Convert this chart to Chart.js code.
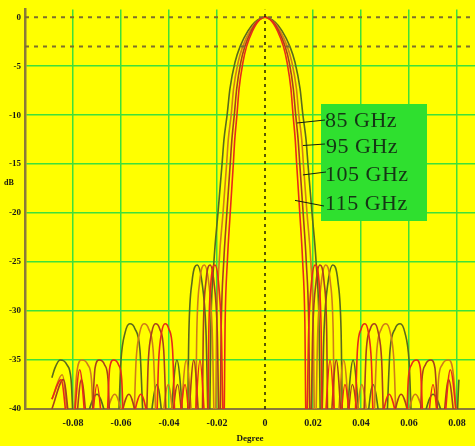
<!DOCTYPE html>
<html lang="en">
<head>
    <meta charset="UTF-8">
    <title>Beam patterns</title>
    <script src="https://cdn.jsdelivr.net/npm/chart.js"></script>
    <style>
        html, body { margin: 0; padding: 0; background: #ffff00; }
        #wrap { width: 475px; height: 446px; }
    </style>
</head>
<body>
    <div id="wrap"><canvas id="pattern" width="475" height="446"></canvas></div>

    <script>
        // Frequencies shown in the legend box
        const freqLabels = ['85 GHz', '95 GHz', '105 GHz', '115 GHz'];
        const freqColors = ['#5a6a1c', '#d07c18', '#a8401c', '#e82a18'];

        // Axis ticks
        const xTickValues = [-0.08, -0.06, -0.04, -0.02, 0, 0.02, 0.04, 0.06, 0.08];
        const yTickValues = [0, -5, -10, -15, -20, -25, -30, -35, -40];

        // Half patterns (offset from boresight, level in dB)
        const offsets85 = [0, 0.0042, 0.0071, 0.0104, 0.0125, 0.0146, 0.0158, 0.0171, 0.0179, 0.0196,
            0.0213, 0.0225, 0.0233, 0.0246, 0.0263, 0.0283, 0.0304, 0.0317, 0.0325, 0.0367,
            0.0408, 0.0450, 0.0500, 0.0521, 0.0542, 0.0563, 0.0583, 0.0600, 0.0617, 0.0700,
            0.0792, 0.0808, 0.0825, 0.0854, 0.0875, 0.0888];
        const levels85 = [0, -0.5, -1.4, -3, -4.6, -7.3, -10, -12.5, -15, -20,
            -25, -31, -44, -32, -27, -25.3, -27, -32, -44, -35,
            -44, -37.5, -44, -34, -31.8, -31.3, -32.2, -35, -44, -38.5,
            -44, -37, -35.5, -35, -35.8, -36.8];

        const offsets95 = [0, 0.0037, 0.0063, 0.0093, 0.0112, 0.0131, 0.0141, 0.0153, 0.0160, 0.0175,
            0.0191, 0.0201, 0.0208, 0.0220, 0.0235, 0.0253, 0.0272, 0.0284, 0.0291, 0.0328,
            0.0365, 0.0403, 0.0447, 0.0466, 0.0485, 0.0504, 0.0522, 0.0537, 0.0552, 0.0626,
            0.0709, 0.0723, 0.0738, 0.0764, 0.0785, 0.0805, 0.0845, 0.0888];
        const levels95 = [0, -0.5, -1.4, -3, -4.6, -7.3, -10, -12.5, -15, -20,
            -25, -31, -44, -32, -27, -25.3, -27, -32, -44, -35,
            -44, -37.5, -44, -34, -31.8, -31.3, -32.2, -35, -44, -38.5,
            -44, -37, -35.5, -35, -36.5, -44, -36.5, -39];

        const offsets105 = [0, 0.0034, 0.0057, 0.0084, 0.0101, 0.0118, 0.0128, 0.0138, 0.0145, 0.0159,
            0.0172, 0.0182, 0.0189, 0.0199, 0.0213, 0.0229, 0.0246, 0.0257, 0.0263, 0.0297,
            0.0330, 0.0364, 0.0405, 0.0422, 0.0439, 0.0456, 0.0472, 0.0486, 0.0499, 0.0567,
            0.0641, 0.0654, 0.0668, 0.0691, 0.0708, 0.0729, 0.0765, 0.0800, 0.0840, 0.0888];
        const levels105 = [0, -0.5, -1.4, -3, -4.6, -7.3, -10, -12.5, -15, -20,
            -25, -31, -44, -32, -27, -25.3, -27, -32, -44, -35,
            -44, -37.5, -44, -34, -31.8, -31.3, -32.2, -35, -44, -38.5,
            -44, -37, -35.5, -35, -35.8, -44, -37, -44, -37, -40];

        const offsets115 = [0, 0.0031, 0.0052, 0.0077, 0.0092, 0.0108, 0.0117, 0.0126, 0.0132, 0.0145,
            0.0157, 0.0166, 0.0172, 0.0182, 0.0194, 0.0209, 0.0225, 0.0234, 0.0240, 0.0271,
            0.0302, 0.0333, 0.0370, 0.0385, 0.0401, 0.0416, 0.0431, 0.0443, 0.0456, 0.0517,
            0.0585, 0.0597, 0.0610, 0.0631, 0.0647, 0.0665, 0.0700, 0.0735, 0.0772, 0.0810,
            0.0850, 0.0888];
        const levels115 = [0, -0.5, -1.4, -3, -4.6, -7.3, -10, -12.5, -15, -20,
            -25, -31, -44, -32, -27, -25.3, -27, -32, -44, -35,
            -44, -37.5, -44, -34, -31.8, -31.3, -32.2, -35, -44, -38.5,
            -44, -37, -35.5, -35, -35.8, -44, -37.5, -44, -36, -44,
            -37, -39];

        // Where the legend leader lines touch the curves (x, dB)
        const leaderX = [0.0133, 0.0158, 0.0158, 0.0125];
        const leaderY = [-10.8, -13.1, -16.1, -18.7];

        const X_MIN = -0.1, X_MAX = 0.0875, RIGHT_END = 0.082;

        // pattern is symmetric: mirror the half pattern onto the left side
        function fullPattern(offsets, levels) {
            const pts = [];
            for (let i = offsets.length - 1; i > 0; i--) pts.push({ x: -offsets[i], y: levels[i] });
            for (let i = 0; i < offsets.length; i++) {
                if (offsets[i] <= RIGHT_END) pts.push({ x: offsets[i], y: levels[i] });
            }
            return pts;
        }

        const patterns = [
            fullPattern(offsets85, levels85),
            fullPattern(offsets95, levels95),
            fullPattern(offsets105, levels105),
            fullPattern(offsets115, levels115)
        ];

        const refLines = [
            { data: [{ x: 0, y: -40 }, { x: 0, y: 0.8 }], borderColor: '#222200', borderWidth: 1.5, borderDash: [3, 4] },
            { data: [{ x: X_MIN, y: 0 }, { x: X_MAX, y: 0 }], borderColor: '#7d6f2c', borderWidth: 2, borderDash: [4, 5] },
            { data: [{ x: X_MIN, y: -3 }, { x: X_MAX, y: -3 }], borderColor: '#7d6f2c', borderWidth: 2, borderDash: [4, 5] }
        ].map(d => Object.assign(d, { pointRadius: 0, fill: false, showLine: true }));

        // 115 GHz first so the red curve sits on top
        const curveSets = [3, 2, 1, 0].map(i => ({
            label: freqLabels[i],
            data: patterns[i],
            borderColor: freqColors[i],
            borderWidth: 1.6,
            pointRadius: 0,
            showLine: true,
            fill: false,
            cubicInterpolationMode: 'monotone'
        }));

        const decorations = {
            id: 'decorations',
            beforeDraw(chart) {
                const ctx = chart.ctx;
                ctx.save();
                ctx.fillStyle = '#ffff00';
                ctx.fillRect(0, 0, chart.width, chart.height);
                ctx.restore();
            },
            afterDraw(chart) {
                const ctx = chart.ctx;
                const xs = chart.scales.x, ys = chart.scales.y;
                ctx.save();

                // y axis title
                ctx.fillStyle = '#111';
                ctx.font = 'bold 8px "Liberation Serif"';
                ctx.textAlign = 'center';
                ctx.textBaseline = 'middle';
                ctx.fillText('dB', 9, 183);

                // legend box
                ctx.fillStyle = '#2fe02f';
                ctx.fillRect(321, 104, 106, 117);
                ctx.font = '22px "Liberation Serif"';
                ctx.letterSpacing = '0.5px';
                ctx.textAlign = 'left';
                ctx.fillStyle = '#153515';
                const rows = [121, 147, 175, 204];
                const textX = [325, 326, 325, 325];
                freqLabels.forEach((lab, i) => {
                    ctx.fillText(lab, textX[i], rows[i]);
                });

                // leader lines
                ctx.strokeStyle = '#102010';
                ctx.lineWidth = 1;
                const ends = [[325, 120], [325, 144], [326, 172], [324, 206]];
                leaderX.forEach((v, i) => {
                    ctx.beginPath();
                    ctx.moveTo(xs.getPixelForValue(v), ys.getPixelForValue(leaderY[i]));
                    ctx.lineTo(ends[i][0], ends[i][1]);
                    ctx.stroke();
                });
                ctx.restore();
            }
        };

        const gridGreen = '#3ee03a';

        new Chart(document.getElementById('pattern').getContext('2d'), {
            type: 'scatter',
            data: { datasets: refLines.concat(curveSets) },
            options: {
                responsive: false,
                animation: false,
                layout: { padding: { top: 5, right: 0, left: 0, bottom: 0 } },
                plugins: { legend: { display: false }, tooltip: { enabled: false } },
                scales: {
                    x: {
                        type: 'linear',
                        min: X_MIN,
                        max: X_MAX,
                        afterBuildTicks: s => { s.ticks = xTickValues.map(v => ({ value: v })); },
                        afterFit: s => { s.height = 37; },
                        grid: {
                            color: c => (c.tick && c.tick.value === 0) ? 'rgba(0,0,0,0)' : gridGreen,
                            lineWidth: 1.5,
                            drawTicks: false
                        },
                        border: { display: true, color: '#8a7a3a', width: 2 },
                        ticks: {
                            padding: 8,
                            color: '#1a1a1a',
                            font: { family: 'Liberation Serif', size: 10, weight: 'bold' },
                            maxRotation: 0,
                            autoSkip: false
                        },
                        title: {
                            display: true,
                            text: 'Degree',
                            color: '#1a1a1a',
                            font: { family: 'Liberation Serif', size: 9, weight: 'bold' },
                            padding: { top: 0, bottom: 2 }
                        }
                    },
                    y: {
                        type: 'linear',
                        min: -40,
                        max: 0.8,
                        afterBuildTicks: s => { s.ticks = yTickValues.map(v => ({ value: v })); },
                        afterFit: s => { s.width = 25; },
                        grid: {
                            color: c => (c.tick && c.tick.value === 0) ? 'rgba(0,0,0,0)' : gridGreen,
                            lineWidth: 1.5,
                            drawTicks: false
                        },
                        border: { display: true, color: '#8a7a3a', width: 2.5 },
                        ticks: {
                            padding: 4,
                            color: '#1a1a1a',
                            font: { family: 'Liberation Serif', size: 9, weight: 'bold' },
                            autoSkip: false
                        }
                    }
                }
            },
            plugins: [decorations]
        });
    </script>
</body>
</html>
